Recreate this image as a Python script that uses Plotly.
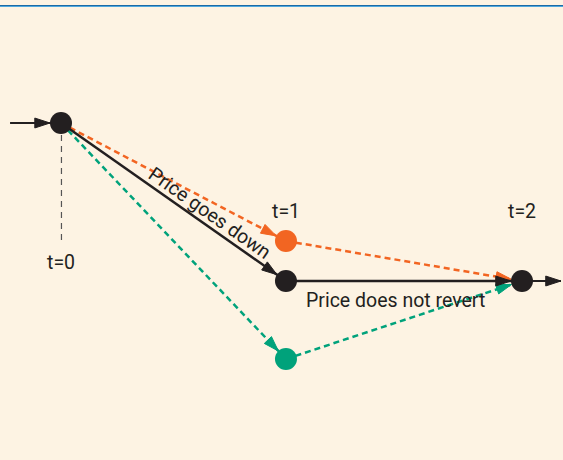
import plotly.graph_objects as go

# ---- data (time on x, price level on y) ----
t_pos = [0, 0.976, 2]                  # horizontal positions of t=0, t=1, t=2
time_labels = ["t=0", "t=1", "t=2"]
orange_path = [3.37, 2.19, 1.79]       # price goes down a little, then to t=2
black_path = [3.37, 1.79, 1.79]        # price goes down, does not revert
green_path = [3.37, 1.01, 1.79]        # price goes down a lot, then back
entry_x = [-0.221, 0]
exit_x = [2, 2.169]

BG = "#fdf3e3"
BLACK = "#231f20"
ORANGE = "#f26522"
GREEN = "#00a27b"
FONT = "Roboto"
FS = 19.5
NODE = 22
R = NODE / 2

fig = go.Figure()

def edge(xs, ys, color, dash, width=2.5, standoff=R, asize=16):
    fig.add_trace(go.Scatter(
        x=xs, y=ys, mode="lines",
        line=dict(color=color, width=width, dash=dash),
        hoverinfo="skip", showlegend=False, cliponaxis=False))
    fig.add_trace(go.Scatter(
        x=xs, y=ys, mode="markers",
        marker=dict(symbol=["circle", "arrow"], size=[0, asize], opacity=1,
                    color=color, angleref="previous",
                    standoff=[0, standoff], line=dict(width=1, color=color)),
        hoverinfo="skip", showlegend=False, cliponaxis=False))

# gray dashed guide under t=0
fig.add_trace(go.Scatter(x=[t_pos[0] + 0.002, t_pos[0] + 0.002], y=[3.25, 2.15], mode="lines",
                         line=dict(color="#555555", width=1.2, dash="6px,5px"),
                         hoverinfo="skip", showlegend=False))

# entry and exit arrows
edge(entry_x, [black_path[0]] * 2, BLACK, "solid", width=2.2)
edge(exit_x, [black_path[2]] * 2, BLACK, "solid", width=2.2, standoff=0)

dash = "6px,4px"
for path, col, d in [(orange_path, ORANGE, dash), (green_path, GREEN, dash),
                     (black_path, BLACK, "solid")]:
    edge(t_pos[:2], path[:2], col, d)
    edge(t_pos[1:], path[1:], col, d)

# nodes
fig.add_trace(go.Scatter(
    x=[t_pos[0], t_pos[1], t_pos[1], t_pos[1], t_pos[2]],
    y=[black_path[0], orange_path[1], black_path[1], green_path[1], black_path[2]],
    mode="markers",
    marker=dict(size=NODE, color=[BLACK, ORANGE, BLACK, GREEN, BLACK], line=dict(width=0)),
    hoverinfo="skip", showlegend=False))

ann = []
for x, y, txt in [(t_pos[0], 1.98, time_labels[0]), (t_pos[1], 2.49, time_labels[1]),
                  (t_pos[2], 2.49, time_labels[2])]:
    ann.append(dict(x=x, y=y, text=txt, showarrow=False,
                    font=dict(family=FONT, size=FS, color=BLACK)))
ann.append(dict(x=0.648, y=2.47, text="Price goes down", showarrow=False, textangle=35,
                font=dict(family=FONT, size=FS, color=BLACK)))
ann.append(dict(x=1.453, y=1.60, text="Price does not revert", showarrow=False,
                font=dict(family=FONT, size=FS, color=BLACK)))

fig.update_layout(
    width=563, height=460, margin=dict(l=0, r=0, t=0, b=0),
    paper_bgcolor=BG, plot_bgcolor=BG,
    xaxis=dict(range=[-61 / 230.5, 502 / 230.5], visible=False, fixedrange=True),
    yaxis=dict(range=[0, 4.6], visible=False, fixedrange=True),
    annotations=ann,
    shapes=[
        dict(type="line", xref="paper", yref="paper", x0=0, x1=1,
             y0=1 - 5.5 / 460, y1=1 - 5.5 / 460, line=dict(color="#1c6aa5", width=1)),
        dict(type="line", xref="paper", yref="paper", x0=0, x1=1,
             y0=1 - 6.5 / 460, y1=1 - 6.5 / 460, line=dict(color="#4fa8de", width=1)),
    ],
)

fig.write_html("out.html", config={"displayModeBar": False},
               post_script="document.body.style.margin='0';document.body.style.overflow='hidden';")
